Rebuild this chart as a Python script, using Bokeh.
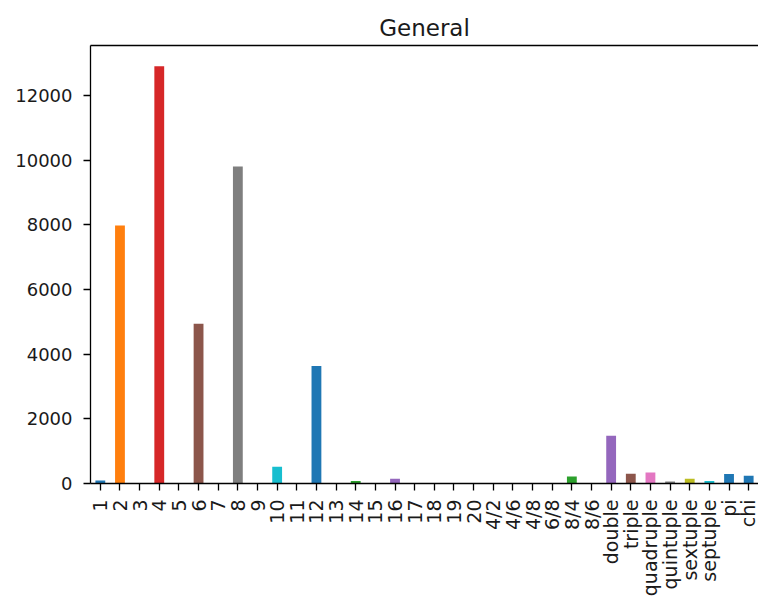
import math
from bokeh.plotting import figure
from bokeh.models import FactorRange, Range1d, LinearAxis, ColumnDataSource, FixedTicker
from bokeh.embed import file_html
from bokeh.resources import INLINE

categories = ["1", "2", "3", "4", "5", "6", "7", "8", "9", "10",
              "11", "12", "13", "14", "15", "16", "17", "18", "19", "20",
              "4/2", "4/6", "4/8", "6/8", "8/4", "8/6",
              "double", "triple", "quadruple", "quintuple", "sextuple", "septuple",
              "pi", "chi"]
counts = [90, 7980, 0, 12900, 0, 4940, 0, 9800, 0, 520,
          0, 3630, 0, 80, 0, 150, 0, 0, 0, 0,
          0, 0, 0, 0, 220, 0,
          1480, 300, 340, 60, 150, 80,
          290, 240]
bar_colors = ["#1f77b4", "#ff7f0e", "#2ca02c", "#d62728", "#9467bd", "#8c564b", "#e377c2", "#7f7f7f", "#bcbd22", "#17becf",
              "#1f77b4", "#1f77b4", "#ff7f0e", "#2ca02c", "#d62728", "#9467bd", "#8c564b", "#e377c2", "#7f7f7f", "#bcbd22",
              "#17becf", "#1f77b4", "#ff7f0e", "#d62728", "#2ca02c", "#d62728",
              "#9467bd", "#8c564b", "#e377c2", "#7f7f7f", "#bcbd22", "#17becf",
              "#1f77b4", "#1f77b4"]
y_ticks = [0, 2000, 4000, 6000, 8000, 10000, 12000]

FONT = "DejaVu Sans"
TXT = "#1a1a1a"

src = ColumnDataSource(dict(cat=categories, count=counts, color=bar_colors))

p = figure(x_range=FactorRange(factors=categories, range_padding=0),
           y_range=Range1d(0, max(counts) * 1.05),
           width=758, height=599, output_backend="svg", toolbar_location=None,
           title="General",
           min_border_left=90, min_border_right=0, min_border_top=45, min_border_bottom=116)

p.vbar(x="cat", top="count", width=0.5, fill_color="color", line_color=None, source=src)

p.title.text_font = FONT
p.title.text_font_size = "23px"
p.title.text_font_style = "normal"
p.title.text_color = TXT
p.title.align = "center"
p.title.standoff = 9

p.xgrid.visible = False
p.ygrid.visible = False
p.outline_line_color = None
p.background_fill_color = "white"
p.border_fill_color = "white"

for ax in (p.xaxis[0], p.yaxis[0]):
    ax.axis_line_color = "black"
    ax.axis_line_width = 1.3
    ax.major_tick_line_color = "black"
    ax.major_tick_line_width = 1.3
    ax.major_tick_out = 7
    ax.major_tick_in = 0
    ax.minor_tick_line_color = None
    ax.major_label_text_font = FONT
    ax.major_label_text_color = TXT

p.yaxis.major_label_text_font_size = "18px"
p.xaxis.major_label_text_font_size = "19px"
p.yaxis.ticker = y_ticks
p.yaxis.major_label_standoff = 11
p.xaxis.major_label_orientation = math.pi / 2
p.xaxis.major_label_standoff = 9

top_ax = LinearAxis(ticker=FixedTicker(ticks=[]), axis_line_color="black", axis_line_width=1.3,
                    major_tick_line_color=None, minor_tick_line_color=None)
p.add_layout(top_ax, "above")

open("out.html", "w").write(file_html(p, INLINE))
